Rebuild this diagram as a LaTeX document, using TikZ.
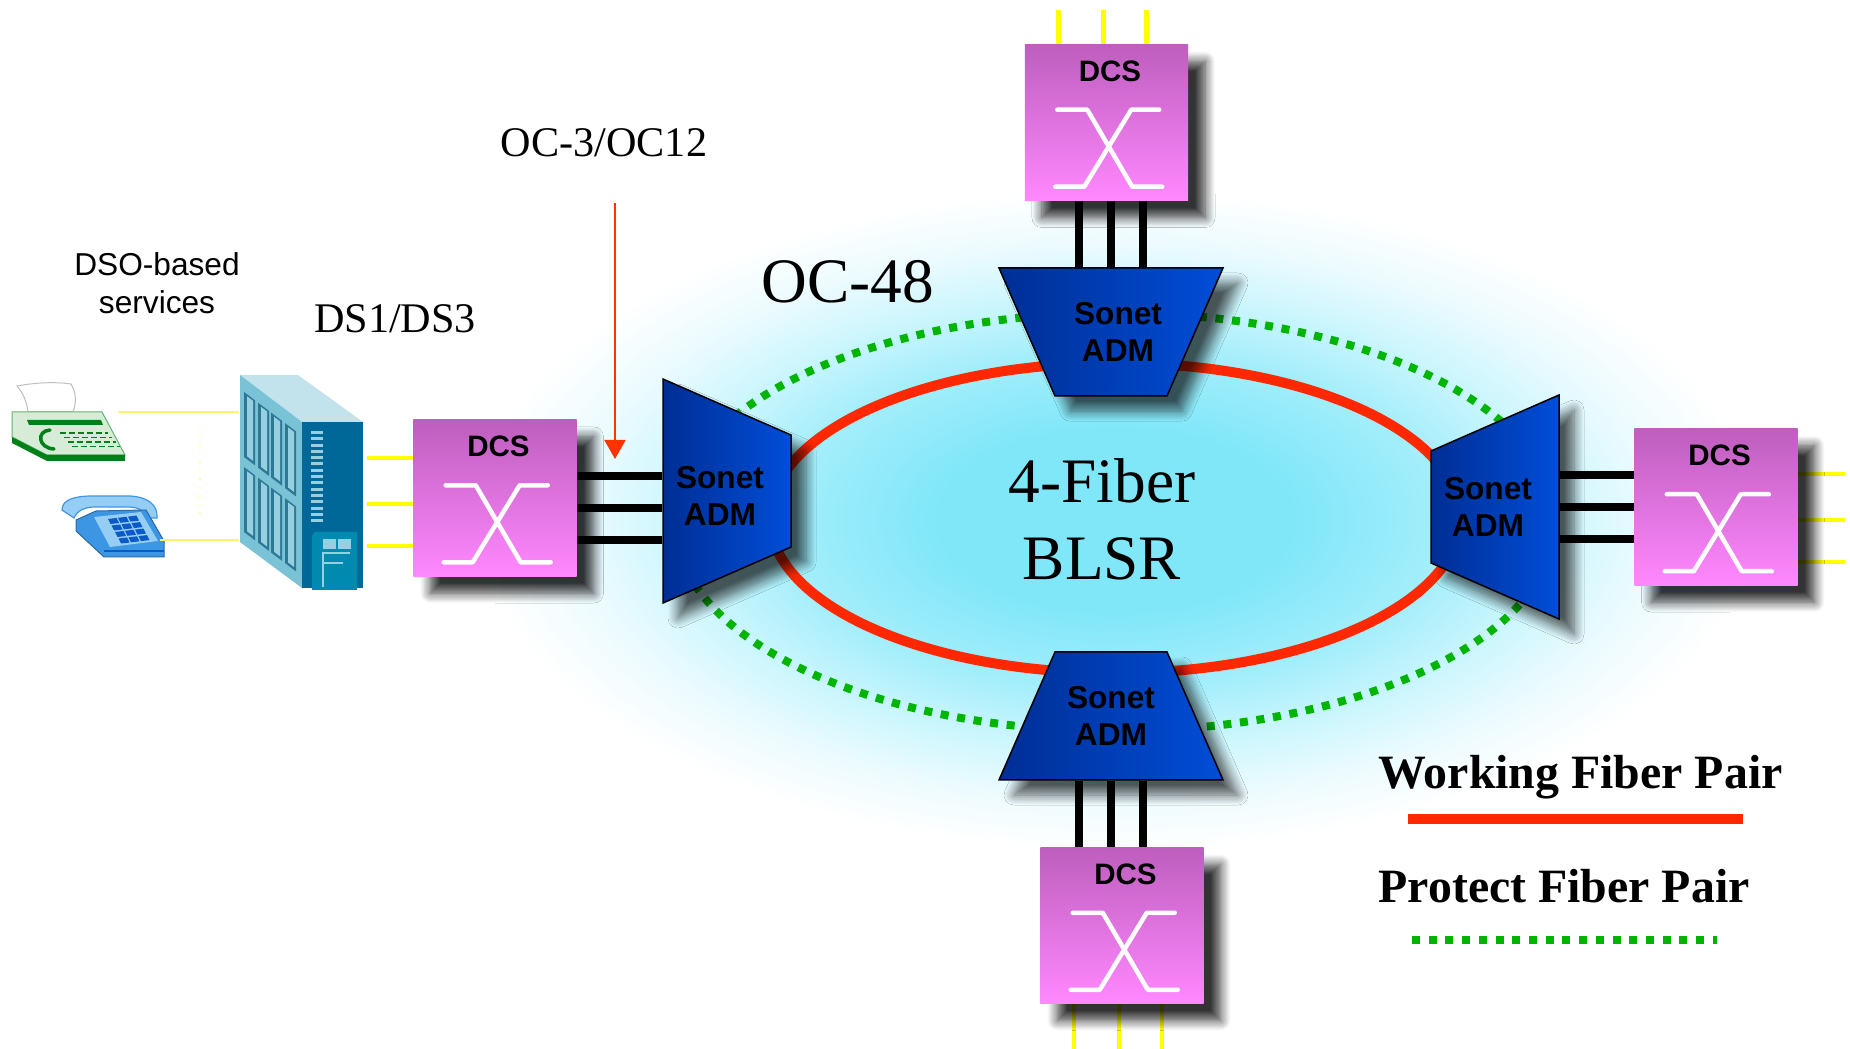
\documentclass[tikz,border=0pt]{standalone}
\usepackage{fontspec}
\setmainfont{Liberation Serif}
\setsansfont{Liberation Sans}
\usetikzlibrary{positioning, calc}
\usetikzlibrary{arrows.meta}
\usetikzlibrary{shadows.blur}

% colours
\definecolor{dcstop}{RGB}{190,94,190}
\definecolor{dcsbottom}{RGB}{255,136,255}
\definecolor{admdark}{RGB}{0,46,148}
\definecolor{admlight}{RGB}{0,78,216}
\definecolor{workred}{RGB}{255,40,0}
\definecolor{protgreen}{RGB}{0,180,0}
\definecolor{arrowred}{RGB}{255,51,0}
\definecolor{feedyellow}{RGB}{255,255,0}
\definecolor{tapyellow}{RGB}{255,244,110}
\definecolor{glowcore}{RGB}{128,231,249}
\definecolor{glowmid}{RGB}{165,238,251}
\definecolor{glowedge}{RGB}{203,246,253}
\definecolor{glowfade}{RGB}{236,251,255}
\definecolor{srvtop}{RGB}{194,226,236}
\definecolor{srvfront}{RGB}{122,194,214}
\definecolor{srvside}{RGB}{0,104,152}
\definecolor{srvpanel}{RGB}{46,120,150}
\definecolor{srvslat}{RGB}{150,208,224}
\definecolor{srvbox}{RGB}{0,138,176}
\definecolor{faxbody}{RGB}{214,236,214}
\definecolor{faxdark}{RGB}{0,128,24}
\definecolor{phonelight}{RGB}{150,205,245}
\definecolor{phonemid}{RGB}{60,150,228}
\definecolor{phonekey}{RGB}{10,90,200}

\pgfdeclareradialshading{ringglow}{\pgfpoint{0bp}{0bp}}{%
  color(0bp)=(glowcore); color(7bp)=(glowcore); color(13bp)=(glowmid);
  color(17bp)=(glowedge); color(21bp)=(glowfade); color(25bp)=(white);
  color(50bp)=(white)}

\pgfdeclarelayer{background}
\pgfdeclarelayer{wires}
\pgfsetlayers{background,wires,main}

\tikzstyle{dcsshadow}=[blur shadow={shadow xshift=.17cm, shadow yshift=-.17cm,
  shadow blur radius=.1cm, shadow blur steps=10, shadow opacity=80}]
\tikzstyle{admshadow}=[blur shadow={shadow xshift=.15cm, shadow yshift=-.15cm,
  shadow blur radius=.1cm, shadow blur steps=10, shadow opacity=65}]
\tikzstyle{dcsbox}=[rectangle, minimum width=1.63cm, minimum height=1.56cm, inner sep=0pt,
  text height=.37cm, text depth=1.19cm, top color=dcstop, bottom color=dcsbottom,
  font=\sffamily\bfseries\fontsize{8.4}{10}\selectfont,
  execute at begin node={\hspace*{.07cm}}, dcsshadow]
\tikzstyle{admbody}=[admshadow, left color=admdark, right color=admlight, draw=black, line width=.015cm]
\tikzstyle{admnode}=[rectangle, inner sep=0pt]
\tikzstyle{admtext}=[inner sep=0pt, align=center, font=\sffamily\bfseries\fontsize{9}{10.5}\selectfont]
\tikzstyle{xmark}=[draw=white, line width=.045cm, line cap=round, line join=round]
\tikzstyle{trunk}=[draw=black, line width=.08cm]
\tikzstyle{feedline}=[draw=feedyellow, line width=.045cm]
\tikzstyle{tapline}=[draw=tapyellow, line width=.015cm]
\tikzstyle{working}=[draw=workred, line width=.1cm]
\tikzstyle{protect}=[draw=protgreen, line width=.08cm, dash pattern=on .08cm off .087cm]
\tikzstyle{feedarrow}=[draw=arrowred, line width=.02cm, -{Triangle[width=.21cm, length=.19cm]}]
\tikzstyle{rate}=[font=\fontsize{12}{14}\selectfont, inner sep=0pt, anchor=base]
\tikzstyle{ringlabel}=[font=\fontsize{18}{21.9}\selectfont, inner sep=0pt, align=center]
\tikzstyle{legendtext}=[font=\bfseries\fontsize{13.6}{16}\selectfont, inner sep=0pt, anchor=base west]
\tikzstyle{svctext}=[font=\sffamily\fontsize{9}{10.8}\selectfont, inner sep=0pt, align=center]

\begin{document}
\begin{tikzpicture}[x=0.01cm, y=-0.01cm]
    \useasboundingbox (0,0) rectangle (1850,1049);

    % add/drop multiplexers
    \path[admbody] (663,379) -- ++(128,56) -- ++(0,112) -- ++(-128,56) -- cycle;
    \node[admnode, minimum width=1.28cm, minimum height=2.24cm,
          label={[admtext, xshift=-.07cm, yshift=-.05cm]center:Sonet\\ADM}] (admL) at (727,491) {};
    \path[admbody] (999,268) -- ++(224,0) -- ++(-56,128) -- ++(-112,0) -- cycle;
    \node[admnode, minimum width=2.24cm, minimum height=1.28cm,
          label={[admtext, xshift=.07cm]center:Sonet\\ADM}] (admT) at (1111,332) {};
    \path[admbody] (1559,395) -- ++(0,224) -- ++(-128,-56) -- ++(0,-112) -- cycle;
    \node[admnode, minimum width=1.28cm, minimum height=2.24cm,
          label={[admtext, xshift=-.07cm]center:Sonet\\ADM}] (admR) at (1495,507) {};
    \path[admbody] (1055,652) -- ++(112,0) -- ++(56,128) -- ++(-224,0) -- cycle;
    \node[admnode, minimum width=2.24cm, minimum height=1.28cm,
          label={[admtext]center:Sonet\\ADM}] (admB) at (1111,716) {};

    % cross-connects
    \node[dcsbox, left=.85cm of admL, yshift=-.07cm] (dcsL) {DCS};
    \node[dcsbox, above=.66cm of admT, xshift=-.045cm] (dcsT) {DCS};
    \node[dcsbox, right=.74cm of admR] (dcsR) {DCS};
    \node[dcsbox, below=.66cm of admB, xshift=.11cm] (dcsB) {DCS};
    \foreach \n in {dcsL,dcsT,dcsR,dcsB} {
        \draw[xmark] ($(\n.north west)+(33,66)$) -- ++(30,0) -- ++(45,77) -- ++(30,0);
        \draw[xmark] ($(\n.north west)+(135,66)$) -- ++(-28,0) -- ++(-47,77) -- ++(-29,0);
    }

    % server tower
    \node[inner sep=0pt, minimum width=1.23cm, minimum height=2.15cm] (server) at (301.5,482.5) {};
    \fill[srvtop] (240,375) -- (298,375) -- (363,422) -- (302,422) -- cycle;
    \fill[srvfront] (240,375) -- (302,422) -- (302,588) -- (240,542) -- cycle;
    \fill[srvside] (302,422) -- (363,422) -- (363,588) -- (302,588) -- cycle;
    \foreach \px in {244,258,271,285}
        \foreach \py in {14,89} {
            \fill[srvpanel] (\px,{375+0.758*(\px-240)+\py}) -- ++(11,8.3) -- ++(0,65) -- ++(-11,-8.3) -- cycle;
            \fill[srvslat] (\px+3,{377+0.758*(\px-237)+\py}) -- ++(6,4.5) -- ++(0,60) -- ++(-6,-4.5) -- cycle;
        }
    \foreach \k in {0,...,14}
        \fill[srvslat] (311,{431+6.3*\k}) rectangle ++(12,3);
    \fill[srvbox] (312,536) -- (315,532) -- (357,532) -- (357,590) -- (312,590) -- cycle;
    \fill[srvslat] (323,539) rectangle (336,549);
    \fill[srvslat] (338,539) rectangle (351,549);
    \draw[srvslat, line width=.015cm] (350,553) -- (323,553) -- (323,587) (323,563) -- (343,563);

    % fax machine
    \filldraw[fill=white, draw=black!25, line width=.01cm] (17,386) .. controls (38,382) and (58,382) .. (71,384)
        .. controls (77,394) and (76,404) .. (73,412) -- (28,412) .. controls (27,402) and (23,393) .. (17,386) -- cycle;
    \filldraw[fill=faxbody, draw=faxdark!60, line width=.01cm] (12,412) -- (102,412) -- (125,455) -- (47,455) -- (12,437) -- cycle;
    \fill[faxdark] (27,420) -- (101,420) -- (103,425) -- (29,425) -- cycle;
    \fill[faxdark] (12,437) -- (47,455) -- (125,455) -- (125,461) -- (47,461) -- (12,443) -- cycle;
    \draw[faxdark, line width=.035cm, line cap=round] (50,430) .. controls (36,431) and (38,448) .. (54,449);
    \foreach \r in {0,...,3}
        \draw[faxdark, line width=.018cm, dash pattern=on .06cm off .03cm] (60+4*\r,433+4.5*\r) -- ++(48,0);

    % telephone
    \filldraw[fill=phonelight, draw=phonemid, line width=.012cm] (62,510) .. controls (62,500) and (74,496) .. (92,496)
        -- (130,496) .. controls (148,497) and (158,505) .. (157,518) -- (147,518) .. controls (145,511) and (139,507) .. (128,507)
        -- (95,507) .. controls (84,507) and (77,511) .. (74,518) -- cycle;
    \filldraw[fill=phonemid, draw=phonemid!70!black, line width=.01cm] (76,520) -- (96,511) -- (146,510) -- (164,541) -- (164,557) -- (104,557) -- (76,531) -- cycle;
    \fill[phonelight] (94,517) -- (141,512) -- (158,541) -- (110,547) -- cycle;
    \foreach \i in {0,1,2}
        \foreach \j in {0,...,3}
            \fill[phonekey] ({108+10*\i+3.5*\j},{519+6.5*\j-1.2*\i}) -- ++(8.5,-1) -- ++(2.5,5) -- ++(-8.5,1) -- cycle;
    \draw[phonekey, line width=.015cm] (104,551) -- (164,551);

    % local taps into the tower
    \coordinate (faxport) at (118,412);
    \coordinate (phoneport) at (160,540);
    \coordinate (tapTop) at (200,427);
    \coordinate (tapBot) at (200,520);
    \draw[tapline] (faxport) -- (faxport -| server.west);
    \draw[tapline] (phoneport) -- (phoneport -| server.west);
    \draw[tapline, dotted, opacity=.6] (tapTop) -- (tapBot);

    % labels
    \node[svctext] (dso) at (157,283) {DSO-based\\services};
    \node[rate] (ds) at (395,333) {DS1/DS3};
    \node[rate] (oc3) at (604,157) {OC-3/OC12};
    \coordinate (octail) at (615,203);
    \coordinate (octip) at (615,459);
    \draw[feedarrow] (octail) -- (octip);
    \node[ringlabel, anchor=base] (oc48) at (848,303) {OC-48};
    \node[ringlabel] (blsr) at (1102,519) {4-Fiber\\BLSR};

    % legend
    \node[legendtext] (wlabel) at (1378,789) {Working Fiber Pair};
    \node[legendtext] (plabel) at (1378,903) {Protect Fiber Pair};
    \draw[working] ($(wlabel.base west)+(30,30)$) -- ++(335,0);
    \draw[protect] ($(plabel.base west)+(34,37)$) -- ++(305,0);

    % layered parts go last, after every blurred shadow has been built
    \begin{pgfonlayer}{background}
        \shade[shading=ringglow] (1115,520) ellipse [x radius=6.4cm, y radius=3.3cm];
        \draw[protect] (1115,522) ellipse [x radius=4.4cm, y radius=2.09cm];
        \draw[working] (1115,518) ellipse [x radius=3.45cm, y radius=1.55cm];
    \end{pgfonlayer}

    % trunks and tributaries, under the boxes and their shadows
    \begin{pgfonlayer}{wires}
        \foreach \off in {-22,10,42}
            \draw[trunk] ($(dcsL.east)+(0,\off)$) coordinate (t) -- (t -| admL.west);
        \foreach \off in {-32,0,32}
            \draw[trunk] ($(admT.north)+(\off,0)$) coordinate (t) -- (t |- dcsT.south);
        \foreach \off in {-32,0,32}
            \draw[trunk] ($(dcsR.west)+(0,\off)$) coordinate (t) -- (t -| admR.east);
        \foreach \off in {-32,0,32}
            \draw[trunk] ($(admB.south)+(\off,0)$) coordinate (t) -- (t |- dcsB.north);
        \foreach \off in {-40,6,48}
            \draw[feedline] ($(dcsL.west)+(0,\off)$) -- ++(-46,0);
        \foreach \off in {-48,-3,40}
            \draw[feedline] ($(dcsT.north)+(\off,0)$) -- ++(0,-34);
        \foreach \off in {-33,13,55}
            \draw[feedline] ($(dcsR.east)+(0,\off)$) -- ++(47,0);
        \foreach \off in {-48,-3,40}
            \draw[feedline] ($(dcsB.south)+(\off,0)$) -- ++(0,47);
    \end{pgfonlayer}
\end{tikzpicture}
\end{document}
